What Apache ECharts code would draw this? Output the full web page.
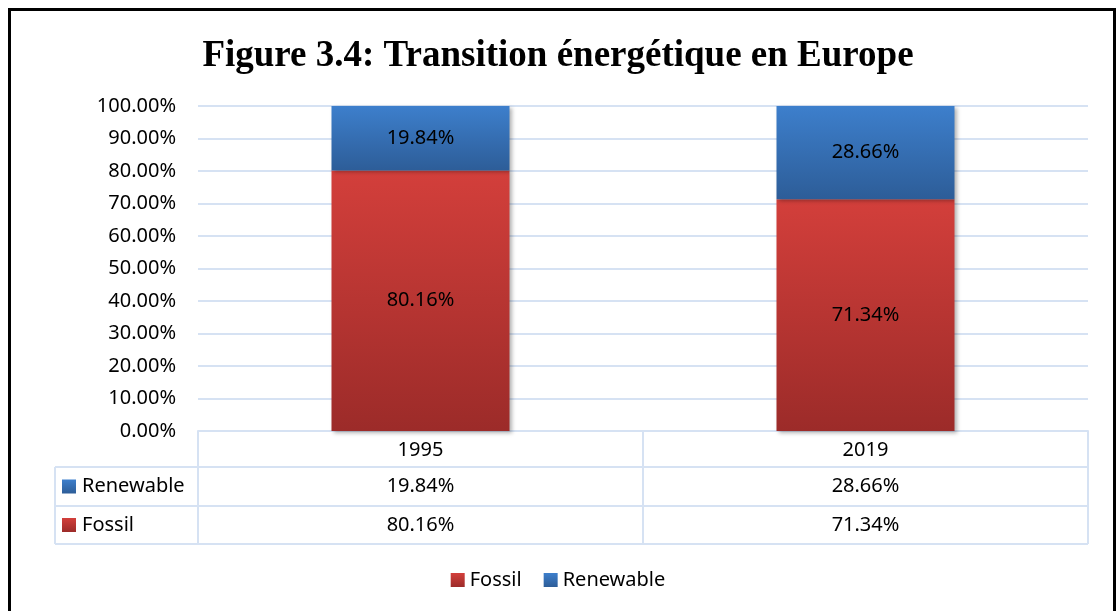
<!DOCTYPE html>
<html>
<head>
<meta charset="utf-8">
<script src="https://cdn.jsdelivr.net/npm/echarts@6/dist/echarts.min.js"></script>
<style>
  html, body { margin: 0; padding: 0; background: #fff; }
  #main { width: 1116px; height: 611px; }
</style>
</head>
<body>
<div id="main"></div>
<script>
// data
var years = ['1995', '2019'];
var fossil = [80.16, 71.34];
var renewable = [19.84, 28.66];

var FONT = 'Noto Sans';
var FS = 20;
var GRID_LINE = '#d6e2f3';

function pct(v) { return v.toFixed(2) + '%'; }

var redGrad = new echarts.graphic.LinearGradient(0, 0, 0, 1, [
  { offset: 0, color: '#d33f3b' },
  { offset: 1, color: '#9c2b29' }
]);
var blueGrad = new echarts.graphic.LinearGradient(0, 0, 0, 1, [
  { offset: 0, color: '#3d7fcc' },
  { offset: 1, color: '#2d5d98' }
]);

var chart = echarts.init(document.getElementById('main'));

function barLabel() {
  return {
    show: true,
    position: 'inside',
    fontFamily: FONT,
    fontSize: FS,
    color: '#000',
    formatter: function (p) { return pct(p.value); }
  };
}
var shadow = {
  shadowBlur: 4,
  shadowColor: 'rgba(0,0,0,0.3)',
  shadowOffsetX: 2,
  shadowOffsetY: 2
};

var option = {
  animation: false,
  title: {
    text: 'Figure 3.4: Transition énergétique en Europe',
    left: 'center',
    top: 33,
    textStyle: {
      fontFamily: 'Liberation Serif',
      fontWeight: 'bold',
      fontSize: 37,
      color: '#000'
    }
  },
  legend: {
    bottom: 16,
    left: 'center',
    itemWidth: 14,
    itemHeight: 14,
    itemGap: 22,
    icon: 'rect',
    data: ['Fossil', 'Renewable'],
    textStyle: { fontFamily: FONT, fontSize: FS, color: '#000' }
  },
  grid: { left: 198, right: 28, top: 106, bottom: 180 },
  xAxis: {
    type: 'category',
    data: years,
    axisLine: { show: true, lineStyle: { color: GRID_LINE, width: 2 } },
    axisTick: { show: false },
    axisLabel: { show: false }
  },
  yAxis: {
    type: 'value',
    min: 0,
    max: 100,
    interval: 10,
    axisLine: { show: false },
    axisTick: { show: false },
    splitLine: { lineStyle: { color: GRID_LINE, width: 2 } },
    axisLabel: {
      margin: 22,
      fontFamily: FONT,
      fontSize: FS,
      color: '#000',
      formatter: function (v) { return pct(v); }
    }
  },
  series: [{
    name: 'Fossil',
    type: 'bar',
    stack: 'total',
    barWidth: '40%',
    data: fossil,
    itemStyle: Object.assign({ color: redGrad }, shadow),
    label: barLabel()
  }, {
    name: 'Renewable',
    type: 'bar',
    stack: 'total',
    barWidth: '40%',
    data: renewable,
    itemStyle: Object.assign({ color: blueGrad }, shadow),
    label: barLabel()
  }]
};
chart.setOption(option);

// data table under the axis, filled from the same arrays
var x0 = 198, x1 = 1088, xL = 55;
var yTop = 431, yR1 = 467, yR2 = 506, yBot = 544;
var cell = 445;
var lineStyle = { stroke: GRID_LINE, lineWidth: 2 };
var g = [];

// outer frame
g.push({ type: 'rect', shape: { x: 9.5, y: 9.5, width: 1105, height: 700 },
  style: { fill: 'none', stroke: '#000', lineWidth: 3 }, z: 100 });

[[xL, yR1, x1, yR1], [xL, yR2, x1, yR2], [xL, yBot, x1, yBot],
 [x0, yTop, x0, yBot], [x0 + cell, yTop, x0 + cell, yBot], [x1, yTop, x1, yBot],
 [xL, yR1, xL, yBot]].forEach(function (l) {
  g.push({ type: 'line', shape: { x1: l[0], y1: l[1], x2: l[2], y2: l[3] }, style: lineStyle });
});

var rows = [
  { name: 'Renewable', values: renewable, color: blueGrad, y: (yR1 + yR2) / 2 },
  { name: 'Fossil', values: fossil, color: redGrad, y: (yR2 + yBot) / 2 }
];

function txt(x, y, s, align) {
  return { type: 'text', x: x, y: y,
    style: { text: s, fontFamily: FONT, fontSize: FS, fill: '#000', align: align || 'center', verticalAlign: 'middle' } };
}

years.forEach(function (yr, i) {
  var cx = chart.convertToPixel({ xAxisIndex: 0 }, yr);
  g.push(txt(cx, (yTop + yR1) / 2 + 1, yr));
  rows.forEach(function (r) {
    g.push(txt(cx, r.y, pct(r.values[i])));
  });
});

rows.forEach(function (r) {
  g.push({ type: 'rect', shape: { x: 62, y: r.y - 7, width: 14, height: 14 }, style: { fill: r.color } });
  g.push(txt(82, r.y, r.name, 'left'));
});

chart.setOption({ graphic: g });
</script>
</body>
</html>
